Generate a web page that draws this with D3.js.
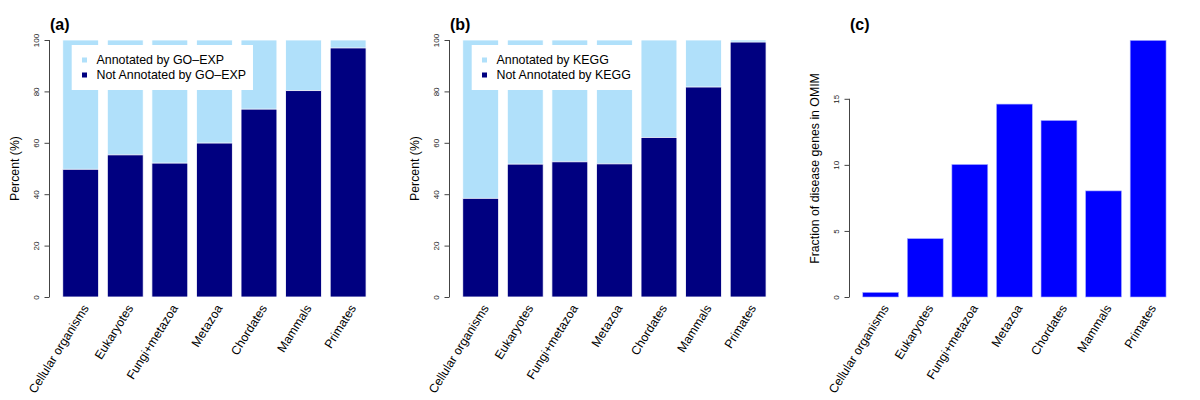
<!DOCTYPE html>
<html>
<head>
<meta charset="utf-8">
<script src="https://cdn.jsdelivr.net/npm/d3@7"></script>
<style>
  html, body { margin: 0; padding: 0; background: #fff; }
  svg { display: block; font-family: "Liberation Sans", Arial, Helvetica, sans-serif; }
</style>
</head>
<body>
<svg id="chart" width="1200" height="400"></svg>
<script>
const categories = ["Cellular organisms", "Eukaryotes", "Fungi+metazoa", "Metazoa", "Chordates", "Mammals", "Primates"];
// Panel (a): percent NOT annotated by GO-EXP (remainder up to 100 = annotated)
const notAnnotatedGO = [49.7, 55.3, 52.1, 59.9, 73.1, 80.3, 96.9];
// Panel (b): percent NOT annotated by KEGG
const notAnnotatedKEGG = [38.4, 51.7, 52.6, 51.8, 62.1, 81.7, 99.2];
// Panel (c): fraction of disease genes in OMIM
const omimFraction = [0.35, 4.42, 10.03, 14.6, 13.36, 8.03, 19.42];
const percentTicks = [0, 20, 40, 60, 80, 100];
const omimTicks = [0, 5, 10, 15];
const panelTitles = ["(a)", "(b)", "(c)"];
const legendGO = ["Annotated by GO\u2013EXP", "Not Annotated by GO\u2013EXP"];
const legendKEGG = ["Annotated by KEGG", "Not Annotated by KEGG"];

const LIGHT = "#B0E0FA", DARK = "#000080", BLUE = "#0000FF";
const svg = d3.select("#chart");
const plotTop = 40, plotBottom = 297;

function drawPanel(ox, opts) {
  const g = svg.append("g");
  const x = d3.scaleBand().domain(categories).range([ox + 58.4, ox + 370.4])
    .paddingInner(0.195).paddingOuter(0.0975);
  const y = d3.scaleLinear().domain(opts.domain).range([plotBottom, plotTop]);
  const axisX = ox + 49.5;

  if (opts.stacked) {
    g.selectAll("rect.full").data(categories).join("rect")
      .attr("class", "full")
      .attr("x", d => x(d)).attr("width", x.bandwidth())
      .attr("y", y(100)).attr("height", y(0) - y(100))
      .attr("fill", LIGHT).attr("stroke", "#fff").attr("stroke-width", 0.8);
    g.selectAll("rect.not").data(opts.values).join("rect")
      .attr("class", "not")
      .attr("x", (d, i) => x(categories[i])).attr("width", x.bandwidth())
      .attr("y", d => y(d)).attr("height", d => y(0) - y(d))
      .attr("fill", DARK).attr("stroke", "#fff").attr("stroke-width", 0.8);
  } else {
    g.selectAll("rect.bar").data(opts.values).join("rect")
      .attr("class", "bar")
      .attr("x", (d, i) => x(categories[i])).attr("width", x.bandwidth())
      .attr("y", d => y(d)).attr("height", d => y(0) - y(d))
      .attr("fill", BLUE).attr("stroke", "#aab0ff").attr("stroke-width", 0.6);
  }

  // y axis
  const ax = g.append("g").attr("transform", `translate(${axisX},0)`)
    .call(d3.axisLeft(y).tickValues(opts.ticks).tickSize(5).tickSizeOuter(0));
  ax.select(".domain").remove();
  ax.append("line").attr("x1", 0).attr("x2", 0)
    .attr("y1", y(opts.ticks[0])).attr("y2", y(opts.ticks[opts.ticks.length - 1]))
    .attr("stroke", "#444").attr("stroke-width", 1);
  ax.selectAll(".tick line").attr("stroke", "#444");
  ax.selectAll(".tick text")
    .attr("transform", "rotate(-90)")
    .attr("x", 0).attr("y", -11).attr("dy", 0)
    .attr("text-anchor", "middle")
    .attr("font-size", 8).attr("fill", "#222")
    .style("font-family", "'Liberation Sans', Arial, sans-serif");

  // y label
  g.append("text")
    .attr("transform", `translate(${ox + opts.ylabelX},${(plotTop + plotBottom) / 2}) rotate(-90)`)
    .attr("text-anchor", "middle").attr("font-size", 12.3).attr("fill", "#000")
    .text(opts.ylabel);

  // title
  g.append("text").attr("x", ox + opts.titleX).attr("y", 30)
    .attr("font-size", 16).attr("font-weight", "bold").attr("fill", "#000")
    .text(opts.title);

  // x labels
  g.selectAll("text.xl").data(categories).join("text")
    .attr("class", "xl")
    .attr("transform", d => `translate(${x(d) + x.bandwidth() / 2 + 8.5},${308}) rotate(-58)`)
    .attr("text-anchor", "end").attr("font-size", 12.3).attr("fill", "#000")
    .text(d => d);

  // legend
  if (opts.legend) {
    const lg = g.append("g");
    const box = lg.append("rect").attr("fill", "#fff");
    const colors = [LIGHT, DARK];
    let maxW = 0;
    opts.legend.forEach((t, i) => {
      const cy = 60 + i * 15;
      lg.append("rect").attr("x", ox + 82).attr("y", cy - 2.5).attr("width", 5).attr("height", 5)
        .attr("fill", colors[i]);
      const tx = lg.append("text").attr("x", ox + 96.5).attr("y", cy + 4.3)
        .attr("font-size", 12.4).attr("fill", "#000").text(t);
      maxW = Math.max(maxW, tx.node().getComputedTextLength());
    });
    box.attr("x", ox + 71.7).attr("y", 45)
      .attr("width", (ox + 96.5 + maxW + 7) - (ox + 71.7)).attr("height", 45);
  }
}

drawPanel(0, { stacked: true, values: notAnnotatedGO, domain: [0, 100], ticks: percentTicks,
  ylabel: "Percent (%)", ylabelX: 18.5, title: panelTitles[0], titleX: 50, legend: legendGO });
drawPanel(400, { stacked: true, values: notAnnotatedKEGG, domain: [0, 100], ticks: percentTicks,
  ylabel: "Percent (%)", ylabelX: 18.5, title: panelTitles[1], titleX: 50, legend: legendKEGG });
drawPanel(800, { stacked: false, values: omimFraction, domain: [0, 19.45], ticks: omimTicks,
  ylabel: "Fraction of disease genes in OMIM", ylabelX: 19, title: panelTitles[2], titleX: 50, legend: null });
</script>
</body>
</html>
